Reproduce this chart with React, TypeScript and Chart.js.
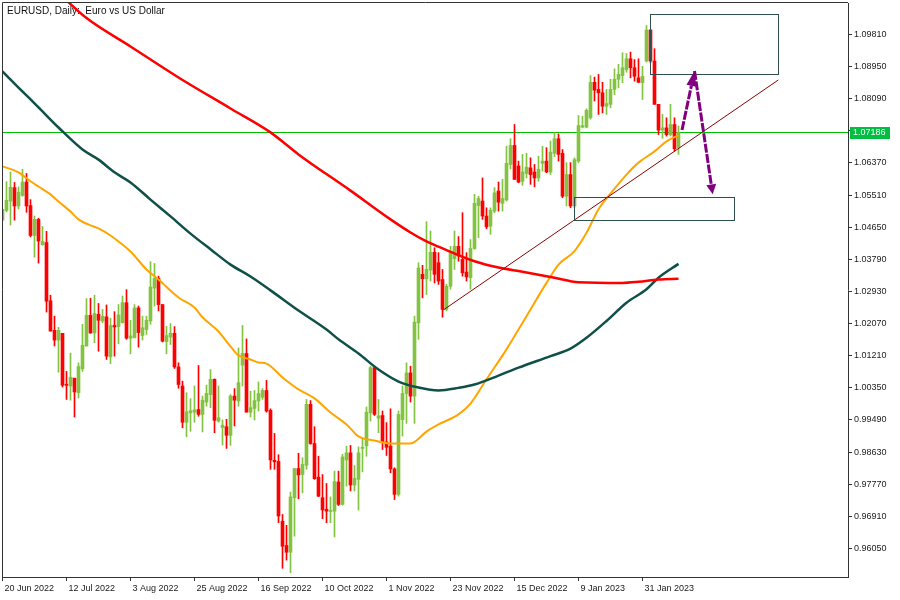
import React, { useEffect, useRef } from "react";
import { Chart, registerables } from "chart.js";

Chart.register(...registerables);

// ---------- DATA ----------
const titleText = "EURUSD, Daily:  Euro vs US Dollar";

const xTickBars = [0, 16, 32, 48, 64, 80, 96, 112, 128, 144, 160];
const xTickLabels = [
  "20 Jun 2022", "12 Jul 2022", "3 Aug 2022", "25 Aug 2022", "16 Sep 2022",
  "10 Oct 2022", "1 Nov 2022", "23 Nov 2022", "15 Dec 2022", "9 Jan 2023", "31 Jan 2023",
];
const yTickValues = [
  0.9605, 0.9691, 0.9777, 0.9863, 0.9949, 1.0035, 1.0121, 1.0207, 1.0293,
  1.0379, 1.0465, 1.0551, 1.0637, 1.0723, 1.0809, 1.0895, 1.0981,
];

const opens = [
  1.0484, 1.0510, 1.0535, 1.0571, 1.0522, 1.0550, 1.0586, 1.0523, 1.0443, 1.0486,
  1.0418, 1.0424, 1.0268, 1.0189, 1.0163, 1.0181, 1.0043, 1.0040, 1.0061, 1.0022,
  1.0086, 1.0147, 1.0229, 1.0182, 1.0232, 1.0214, 1.0225, 1.0118, 1.0202, 1.0199,
  1.0209, 1.0263, 1.0168, 1.0169, 1.0249, 1.0175, 1.0191, 1.0214, 1.0302, 1.0328,
  1.0258, 1.0159, 1.0171, 1.0181, 1.0091, 1.0040, 0.9943, 0.9968, 0.9970, 0.9977,
  0.9964, 0.9997, 1.0017, 1.0058, 0.9946, 0.9929, 0.9931, 0.9908, 1.0013, 1.0000,
  1.0096, 1.0127, 0.9970, 0.9980, 1.0000, 1.0010, 1.0028, 0.9975, 0.9841, 0.9838,
  0.9678, 0.9613, 0.9595, 0.9741, 0.9819, 0.9803, 0.9828, 0.9991, 0.9886, 0.9796,
  0.9741, 0.9710, 0.9704, 0.9705, 0.9783, 0.9723, 0.9842, 0.9861, 0.9775, 0.9790,
  0.9873, 0.9880, 0.9968, 1.0089, 0.9954, 0.9961, 0.9890, 0.9879, 0.9818, 0.9750,
  0.9950, 1.0020, 1.0075, 1.0013, 1.0209, 1.0339, 1.0327, 1.0350, 1.0398, 1.0370,
  1.0325, 1.0245, 1.0307, 1.0381, 1.0414, 1.0379, 1.0345, 1.0330, 1.0408, 1.0523,
  1.0535, 1.0495, 1.0468, 1.0508, 1.0562, 1.0529, 1.0538, 1.0633, 1.0684, 1.0629,
  1.0588, 1.0609, 1.0624, 1.0613, 1.0597, 1.0636, 1.0642, 1.0613, 1.0663, 1.0702,
  1.0663, 1.0548, 1.0606, 1.0522, 1.0642, 1.0733, 1.0733, 1.0758, 1.0853, 1.0834,
  1.0825, 1.0789, 1.0794, 1.0834, 1.0861, 1.0871, 1.0887, 1.0916, 1.0892, 1.0865,
  1.0852, 1.0910, 1.0993, 1.0910, 1.0794, 1.0725, 1.0731, 1.0713, 1.0740, 1.0678,
];
const highs = [
  1.0513, 1.0587, 1.0613, 1.0585, 1.0573, 1.0620, 1.0609, 1.0539, 1.0495, 1.0489,
  1.0467, 1.0454, 1.0283, 1.0227, 1.0197, 1.0181, 1.0079, 1.0128, 1.0061, 1.0102,
  1.0205, 1.0274, 1.0275, 1.0283, 1.0261, 1.0245, 1.0257, 1.0221, 1.0239, 1.0258,
  1.0281, 1.0298, 1.0216, 1.0258, 1.0254, 1.0227, 1.0227, 1.0373, 1.0368, 1.0334,
  1.0258, 1.0200, 1.0207, 1.0199, 1.0102, 1.0053, 1.0022, 1.0006, 1.0040, 1.0095,
  1.0013, 1.0042, 1.0084, 1.0059, 1.0040, 0.9949, 0.9951, 1.0017, 1.0033, 1.0142,
  1.0202, 1.0166, 1.0026, 1.0028, 1.0051, 1.0033, 1.0055, 0.9979, 0.9913, 0.9856,
  0.9696, 0.9667, 0.9756, 0.9819, 0.9860, 0.9848, 1.0004, 1.0001, 0.9931, 0.9852,
  0.9803, 0.9779, 0.9743, 0.9812, 0.9812, 0.9857, 0.9879, 0.9881, 0.9827, 0.9877,
  0.9901, 0.9984, 1.0093, 1.0093, 1.0004, 0.9973, 0.9942, 0.9979, 0.9821, 0.9973,
  1.0040, 1.0102, 1.0093, 1.0227, 1.0370, 1.0363, 1.0480, 1.0455, 1.0410, 1.0397,
  1.0352, 1.0312, 1.0414, 1.0455, 1.0440, 1.0504, 1.0397, 1.0432, 1.0553, 1.0548,
  1.0597, 1.0517, 1.0517, 1.0571, 1.0586, 1.0593, 1.0682, 1.0702, 1.0740, 1.0642,
  1.0660, 1.0663, 1.0651, 1.0633, 1.0655, 1.0682, 1.0678, 1.0696, 1.0718, 1.0715,
  1.0673, 1.0638, 1.0638, 1.0651, 1.0764, 1.0762, 1.0782, 1.0871, 1.0867, 1.0874,
  1.0853, 1.0834, 1.0861, 1.0889, 1.0901, 1.0932, 1.0930, 1.0934, 1.0914, 1.0916,
  1.0896, 1.1005, 1.0994, 1.0943, 1.0794, 1.0767, 1.0758, 1.0794, 1.0758, 1.0736,
];
const lows = [
  1.0484, 1.0506, 1.0471, 1.0484, 1.0514, 1.0548, 1.0505, 1.0439, 1.0385, 1.0369,
  1.0417, 1.0238, 1.0187, 1.0147, 1.0077, 1.0037, 1.0004, 1.0002, 0.9957, 1.0008,
  1.0079, 1.0147, 1.0181, 1.0156, 1.0133, 1.0209, 1.0111, 1.0100, 1.0120, 1.0153,
  1.0209, 1.0165, 1.0126, 1.0169, 1.0144, 1.0163, 1.0178, 1.0205, 1.0254, 1.0241,
  1.0158, 1.0126, 1.0151, 1.0087, 1.0034, 0.9928, 0.9904, 0.9919, 0.9943, 0.9959,
  0.9917, 0.9986, 0.9982, 0.9915, 0.9943, 0.9882, 0.9873, 0.9881, 0.9933, 0.9986,
  1.0040, 0.9970, 0.9957, 0.9949, 0.9973, 1.0004, 0.9970, 0.9817, 0.9817, 0.9674,
  0.9552, 0.9574, 0.9540, 0.9638, 0.9738, 0.9754, 0.9817, 0.9884, 0.9790, 0.9744,
  0.9685, 0.9674, 0.9674, 0.9636, 0.9720, 0.9721, 0.9772, 0.9759, 0.9759, 0.9708,
  0.9810, 0.9852, 0.9946, 0.9961, 0.9915, 0.9870, 0.9854, 0.9808, 0.9736, 0.9745,
  0.9906, 0.9940, 0.9997, 0.9940, 1.0165, 1.0276, 1.0285, 1.0321, 1.0316, 1.0312,
  1.0224, 1.0241, 1.0299, 1.0352, 1.0374, 1.0334, 1.0321, 1.0299, 1.0406, 1.0437,
  1.0486, 1.0461, 1.0446, 1.0504, 1.0508, 1.0508, 1.0535, 1.0621, 1.0593, 1.0584,
  1.0577, 1.0597, 1.0580, 1.0573, 1.0588, 1.0615, 1.0611, 1.0606, 1.0654, 1.0642,
  1.0544, 1.0522, 1.0517, 1.0517, 1.0638, 1.0731, 1.0731, 1.0754, 1.0803, 1.0767,
  1.0771, 1.0767, 1.0785, 1.0820, 1.0838, 1.0852, 1.0880, 1.0865, 1.0856, 1.0852,
  1.0807, 1.0907, 1.0905, 1.0794, 1.0713, 1.0703, 1.0709, 1.0709, 1.0669, 1.0660,
];
const closes = [
  1.0513, 1.0537, 1.0572, 1.0522, 1.0559, 1.0586, 1.0522, 1.0443, 1.0486, 1.0428,
  1.0427, 1.0267, 1.0187, 1.0163, 1.0189, 1.0042, 1.0042, 1.0063, 1.0024, 1.0092,
  1.0149, 1.0229, 1.0182, 1.0234, 1.0216, 1.0227, 1.0120, 1.0202, 1.0198, 1.0230,
  1.0263, 1.0168, 1.0174, 1.0249, 1.0183, 1.0196, 1.0216, 1.0305, 1.0328, 1.0258,
  1.0160, 1.0175, 1.0181, 1.0091, 1.0044, 0.9943, 0.9971, 0.9974, 0.9976, 0.9964,
  1.0002, 1.0020, 1.0058, 0.9948, 0.9955, 0.9935, 0.9908, 1.0013, 1.0002, 1.0049,
  1.0127, 0.9970, 0.9982, 1.0001, 1.0020, 1.0028, 0.9973, 0.9842, 0.9837, 0.9692,
  0.9611, 0.9595, 0.9743, 0.9819, 0.9802, 0.9830, 0.9991, 0.9886, 0.9792, 0.9745,
  0.9708, 0.9705, 0.9707, 0.9784, 0.9723, 0.9850, 0.9861, 0.9775, 0.9793, 0.9861,
  0.9876, 0.9970, 1.0089, 0.9964, 0.9960, 0.9890, 0.9876, 0.9818, 0.9750, 0.9964,
  1.0020, 1.0075, 1.0013, 1.0211, 1.0356, 1.0327, 1.0352, 1.0398, 1.0339, 1.0321,
  1.0245, 1.0307, 1.0401, 1.0414, 1.0388, 1.0343, 1.0332, 1.0408, 1.0529, 1.0542,
  1.0495, 1.0466, 1.0510, 1.0557, 1.0532, 1.0542, 1.0636, 1.0684, 1.0593, 1.0586,
  1.0613, 1.0626, 1.0606, 1.0597, 1.0620, 1.0642, 1.0613, 1.0666, 1.0702, 1.0660,
  1.0548, 1.0606, 1.0522, 1.0646, 1.0737, 1.0737, 1.0778, 1.0853, 1.0832, 1.0825,
  1.0789, 1.0796, 1.0834, 1.0861, 1.0874, 1.0892, 1.0916, 1.0892, 1.0869, 1.0853,
  1.0869, 1.0993, 1.0910, 1.0794, 1.0725, 1.0731, 1.0713, 1.0740, 1.0675, 1.07186,
];

// moving averages (bar index, value)
const maFastBars = [0, 4, 7, 9, 12, 14, 17, 19, 22, 24, 27, 29, 32, 36, 39, 44, 48, 50, 54, 57, 59, 62, 64, 66, 70, 74, 78, 82, 86, 89, 93, 97, 102, 106, 109, 114, 117, 121, 126, 131, 136, 139, 143, 146, 149, 152, 156, 159, 163, 166, 169];
const maFastValues = [1.0628, 1.0612, 1.0588, 1.0574, 1.0553, 1.0534, 1.0507, 1.0486, 1.0470, 1.0462, 1.0443, 1.0427, 1.0400, 1.0352, 1.0325, 1.0277, 1.0250, 1.0224, 1.0186, 1.0146, 1.0122, 1.0111, 1.0103, 1.0100, 1.0063, 1.0031, 1.0007, 0.9969, 0.9937, 0.9905, 0.9894, 0.9886, 0.9886, 0.9918, 0.9937, 0.9964, 0.9993, 1.0058, 1.0138, 1.0227, 1.0316, 1.0365, 1.0401, 1.0450, 1.0513, 1.0555, 1.0606, 1.0638, 1.0668, 1.0695, 1.0711];

const maMidBars = [0, 4, 9, 14, 20, 24, 28, 32, 37, 42, 47, 52, 57, 62, 67, 74, 81, 84, 89, 94, 99, 104, 109, 114, 118, 124, 129, 137, 142, 146, 151, 156, 161, 164, 169];
const maMidValues = [1.0882, 1.0839, 1.0786, 1.0732, 1.0673, 1.0646, 1.0612, 1.0585, 1.0539, 1.0494, 1.0448, 1.0406, 1.0365, 1.0333, 1.0296, 1.0242, 1.0191, 1.0165, 1.0127, 1.0084, 1.0052, 1.0036, 1.0028, 1.0035, 1.0044, 1.0068, 1.0089, 1.0120, 1.0140, 1.0169, 1.0214, 1.0263, 1.0299, 1.0330, 1.0367];

const maSlowBars = [14, 21, 32, 44, 57, 67, 74, 87, 97, 102, 106, 109, 118, 124, 130, 138, 144, 155, 159, 164, 169];
const maSlowValues = [1.1092, 1.1025, 1.0949, 1.0866, 1.0783, 1.0719, 1.0660, 1.0563, 1.0486, 1.0451, 1.0427, 1.0413, 1.0374, 1.0357, 1.0346, 1.0330, 1.0318, 1.0316, 1.0319, 1.0325, 1.0327];

const currentPrice = 1.07186;

// drawn objects (in bar / price coordinates)
const upperZone = { from: 161.9, to: 193.95, top: 1.1035, bottom: 1.08752 };
const lowerZone = { from: 142.95, to: 182.95, top: 1.05468, bottom: 1.04844 };
const trendFrom = { bar: 110.2, price: 1.02435 };
const trendTo = { bar: 193.95, price: 1.08592 };
const arrowStart = { bar: 169.875, price: 1.07253 };
const arrowApex = { bar: 173.0, price: 1.08833 };
const arrowEnd = { bar: 177.55, price: 1.05532 };

// ---------- STYLE ----------
const UP = "#82c341";
const DOWN = "#ff0000";
const FONT = '"Liberation Sans", Arial, sans-serif';

function drawArrow(ctx: CanvasRenderingContext2D, x0: number, y0: number, x1: number, y1: number, headLen: number, headHalf: number) {
  const ang = Math.atan2(y1 - y0, x1 - x0);
  const bx = x1 - headLen * Math.cos(ang);
  const by = y1 - headLen * Math.sin(ang);
  ctx.setLineDash([9, 1.5]);
  ctx.beginPath();
  ctx.moveTo(x0, y0);
  ctx.lineTo(bx, by);
  ctx.stroke();
  ctx.setLineDash([]);
  ctx.beginPath();
  ctx.moveTo(x1, y1);
  ctx.lineTo(bx + headHalf * Math.sin(ang), by - headHalf * Math.cos(ang));
  ctx.lineTo(bx - headHalf * Math.sin(ang), by + headHalf * Math.cos(ang));
  ctx.closePath();
  ctx.fill();
}

const overlayPlugin = {
  id: "mtOverlay",
  beforeDatasetsDraw(chart: any) {
    const { ctx, chartArea: a, scales } = chart;
    const y = scales.y;
    ctx.save();
    // title
    ctx.font = `10px ${FONT}`;
    ctx.fillStyle = "#111";
    ctx.textBaseline = "alphabetic";
    ctx.textAlign = "left";
    ctx.fillText(titleText, 7, 14);
    // current price line
    const py = Math.floor(y.getPixelForValue(currentPrice)) + 0.5;
    ctx.strokeStyle = "#00c000";
    ctx.lineWidth = 1;
    ctx.beginPath();
    ctx.moveTo(a.left, py);
    ctx.lineTo(a.right, py);
    ctx.stroke();
    ctx.restore();
  },
  afterDatasetsDraw(chart: any) {
    const { ctx, chartArea: a, scales } = chart;
    const x = scales.x;
    const y = scales.y;
    const px = (b: number) => x.getPixelForValue(b);
    const pv = (v: number) => y.getPixelForValue(v);
    ctx.save();
    ctx.beginPath();
    ctx.rect(a.left, a.top, a.right - a.left, a.bottom - a.top);
    ctx.clip();

    // trend line
    ctx.strokeStyle = "#8b0000";
    ctx.lineWidth = 1;
    ctx.beginPath();
    ctx.moveTo(px(trendFrom.bar), pv(trendFrom.price));
    ctx.lineTo(px(trendTo.bar), pv(trendTo.price));
    ctx.stroke();

    // zones
    ctx.strokeStyle = "#2f4f4f";
    ctx.lineWidth = 1;
    for (const z of [upperZone, lowerZone]) {
      const x0 = Math.round(px(z.from)) + 0.5;
      const x1 = Math.round(px(z.to)) + 0.5;
      const y0 = Math.round(pv(z.top)) + 0.5;
      const y1 = Math.round(pv(z.bottom)) + 0.5;
      ctx.strokeRect(x0, y0, x1 - x0, y1 - y0);
    }

    // arrows
    ctx.strokeStyle = "#800080";
    ctx.fillStyle = "#800080";
    ctx.lineWidth = 3;
    drawArrow(ctx, px(arrowStart.bar), pv(arrowStart.price), px(arrowApex.bar), pv(arrowApex.price), 15, 5);
    drawArrow(ctx, px(arrowApex.bar), pv(arrowApex.price), px(arrowEnd.bar), pv(arrowEnd.price), 10, 5);
    ctx.restore();

    // frame left / top
    ctx.save();
    ctx.strokeStyle = "#333";
    ctx.lineWidth = 1;
    ctx.beginPath();
    ctx.moveTo(a.left + 0.5, a.bottom);
    ctx.lineTo(a.left + 0.5, a.top - 0.5);
    ctx.lineTo(a.right, a.top - 0.5);
    ctx.stroke();
    ctx.restore();
  },
  afterDraw(chart: any) {
    const { ctx, chartArea: a, scales } = chart;
    const y = scales.y;
    const py = Math.floor(y.getPixelForValue(currentPrice)) + 0.5;
    ctx.save();
    ctx.fillStyle = "#00bf40";
    ctx.fillRect(a.right + 2, py - 5.5, 40, 12);
    ctx.fillStyle = "#ffffff";
    ctx.font = `9px ${FONT}`;
    ctx.textBaseline = "middle";
    ctx.textAlign = "left";
    ctx.fillText(currentPrice.toFixed(5), a.right + 5, py + 0.5);
    ctx.restore();
  },
};

export default function App() {
  const ref = useRef<HTMLCanvasElement>(null);

  useEffect(() => {
    const bodies = closes.map((c, i) => ({ x: i, y: [opens[i], c] }));
    const wicks = closes.map((_, i) => ({ x: i, y: [lows[i], highs[i]] }));
    const colors = closes.map((c, i) => (c >= opens[i] ? UP : DOWN));
    const toPts = (bars: number[], vals: number[]) => bars.map((b, i) => ({ x: b, y: vals[i] }));

    const chart = new Chart(ref.current as HTMLCanvasElement, {
      type: "bar",
      data: {
        datasets: [
          {
            type: "line",
            data: toPts(maSlowBars, maSlowValues),
            borderColor: "#ff0000",
            borderWidth: 2.5,
            pointRadius: 0,
            cubicInterpolationMode: "monotone",
            order: 0,
          } as any,
          {
            type: "line",
            data: toPts(maMidBars, maMidValues),
            borderColor: "#0f5048",
            borderWidth: 2.5,
            pointRadius: 0,
            cubicInterpolationMode: "monotone",
            order: 0,
          } as any,
          {
            type: "line",
            data: toPts(maFastBars, maFastValues),
            borderColor: "#ffa500",
            borderWidth: 2,
            pointRadius: 0,
            cubicInterpolationMode: "monotone",
            order: 0,
          } as any,
          {
            type: "bar",
            data: bodies,
            backgroundColor: colors,
            barThickness: 3,
            grouped: false,
            minBarLength: 1,
            borderWidth: 0,
            order: 2,
          } as any,
          {
            type: "bar",
            data: wicks,
            backgroundColor: colors,
            barThickness: 1,
            grouped: false,
            borderWidth: 0,
            order: 3,
          } as any,
        ],
      },
      options: {
        animation: false,
        responsive: false,
        maintainAspectRatio: false,
        devicePixelRatio: 1,
        events: [],
        layout: { padding: { left: 2, top: 3, right: 0, bottom: 0 } },
        plugins: {
          legend: { display: false },
          tooltip: { enabled: false },
          title: { display: false },
        },
        scales: {
          x: {
            type: "linear",
            min: -0.125,
            max: 211.375,
            offset: false,
            afterBuildTicks: (s: any) => {
              s.ticks = xTickBars.map((v) => ({ value: v }));
            },
            afterFit: (s: any) => {
              s.height = 23;
              s.paddingLeft = 0;
              s.paddingRight = 0;
            },
            grid: { display: true, offset: false, drawOnChartArea: false, drawTicks: true, tickLength: 4, color: "#333" },
            border: { display: true, color: "#333", width: 1 },
            ticks: {
              autoSkip: false,
              maxRotation: 0,
              minRotation: 0,
              align: "start",
              labelOffset: 2,
              padding: 2,
              color: "#1a1a1a",
              font: { family: FONT, size: 9 },
              callback: (_v: any, i: number) => xTickLabels[i] ?? "",
            },
          },
          y: {
            type: "linear",
            position: "right",
            min: 0.95287,
            max: 1.10653,
            afterBuildTicks: (s: any) => {
              s.ticks = yTickValues.map((v) => ({ value: v }));
            },
            afterFit: (s: any) => {
              s.width = 52;
              s.paddingTop = 0;
              s.paddingBottom = 0;
            },
            grid: { display: true, drawOnChartArea: false, drawTicks: true, tickLength: 4, color: "#333" },
            border: { display: true, color: "#333", width: 1 },
            ticks: {
              autoSkip: false,
              padding: 2,
              color: "#1a1a1a",
              font: { family: FONT, size: 9 },
              callback: (v: any) => Number(v).toFixed(5),
            },
          },
        },
      } as any,
      plugins: [overlayPlugin],
    });
    return () => chart.destroy();
  }, []);

  return (
    <div style={{ position: "absolute", left: 0, top: 0, width: 900, height: 600, background: "#fff" }}>
      <canvas ref={ref} width={900} height={600} style={{ display: "block" }} />
    </div>
  );
}
